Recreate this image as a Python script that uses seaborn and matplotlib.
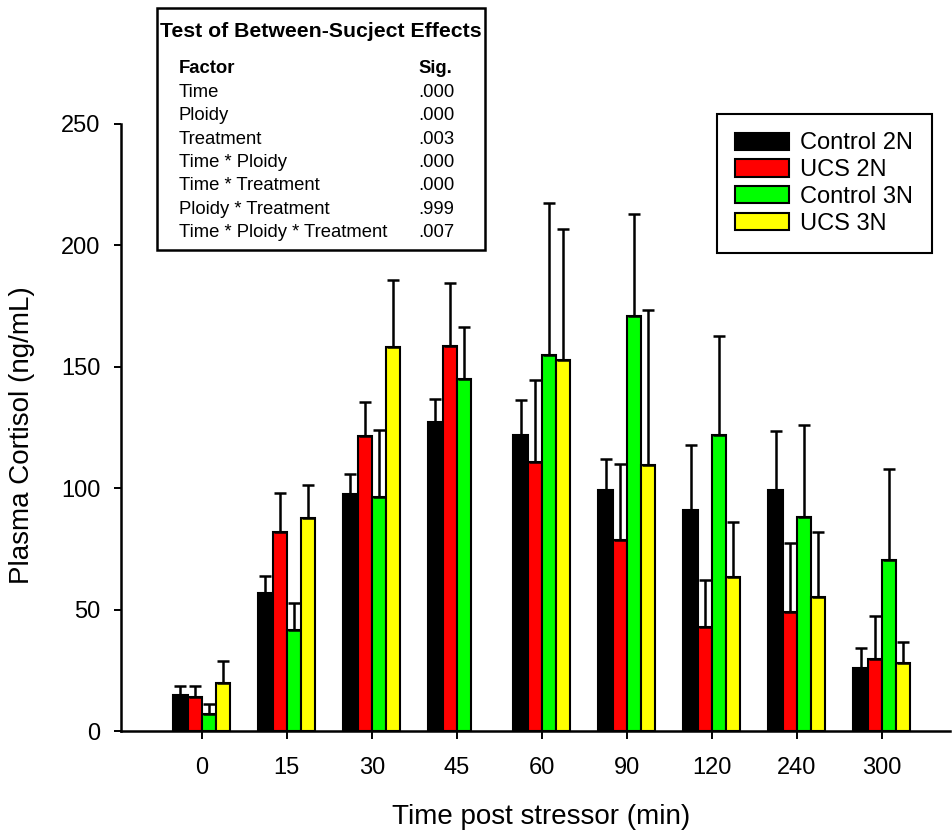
import numpy as np
import pandas as pd
import matplotlib
matplotlib.use("Agg")
import matplotlib.pyplot as plt
from matplotlib.patches import Rectangle
import seaborn as sns

# ---- data -------------------------------------------------------------
times = ["0", "15", "30", "45", "60", "90", "120", "240", "300"]
groups = ["Control 2N", "UCS 2N", "Control 3N", "UCS 3N"]
colors = ["#000000", "#FF0000", "#00FF00", "#FFFF00"]

control_2n_mean = [14.8, 57.0, 97.5, 127.1, 121.9, 99.1, 91.0, 99.1, 26.1]
control_2n_sem = [3.6, 7.0, 8.2, 9.8, 14.6, 12.9, 26.8, 24.6, 8.1]
ucs_2n_mean = [13.9, 81.8, 121.5, 158.7, 110.8, 78.8, 43.0, 49.1, 29.7]
ucs_2n_sem = [4.6, 16.2, 14.0, 25.9, 33.8, 31.2, 19.1, 28.5, 17.7]
control_3n_mean = [6.9, 41.7, 96.5, 145.0, 154.9, 170.9, 121.8, 88.0, 70.4]
control_3n_sem = [4.2, 10.9, 27.6, 21.4, 62.7, 42.0, 40.9, 38.2, 37.6]
ucs_3n_mean = [19.8, 87.7, 158.2, np.nan, 152.9, 109.4, 63.6, 55.1, 27.9]
ucs_3n_sem = [9.0, 13.6, 27.5, np.nan, 53.7, 63.9, 22.4, 26.7, 8.9]

factors = ["Time", "Ploidy", "Treatment", "Time * Ploidy", "Time * Treatment",
           "Ploidy * Treatment", "Time * Ploidy * Treatment"]
sig_values = [".000", ".000", ".003", ".000", ".000", ".999", ".007"]

means = [control_2n_mean, ucs_2n_mean, control_3n_mean, ucs_3n_mean]
sems = [control_2n_sem, ucs_2n_sem, control_3n_sem, ucs_3n_sem]

rows = []
for g, m_list, s_list in zip(groups, means, sems):
    for t, m, s in zip(times, m_list, s_list):
        rows.append({"time": t, "group": g, "cortisol": m, "sem": s})
df = pd.DataFrame(rows).dropna()

# ---- style ------------------------------------------------------------
sns.set_style("ticks")
plt.rcParams["font.family"] = ["Liberation Sans", "DejaVu Sans"]
plt.rcParams["text.color"] = "black"
plt.rcParams["axes.labelcolor"] = "black"
plt.rcParams["xtick.color"] = "black"
plt.rcParams["ytick.color"] = "black"

W, H = 953, 830
fig = plt.figure(figsize=(W / 100, H / 100), dpi=100)
ax = fig.add_axes([121 / W, 1 - 731 / H, 829 / W, 607 / H])

sns.barplot(data=df, x="time", y="cortisol", hue="group", order=times,
            hue_order=groups, palette=colors, width=0.67, errorbar=None,
            edgecolor="black", linewidth=1.5, saturation=1, legend=False, ax=ax)

# one-sided (upper) SEM bars on every bar
sem_lookup = {(r.group, times.index(r.time)): r.sem for r in df.itertuples()}
for g, cont in zip(groups, ax.containers):
    xs, ys, es = [], [], []
    for bar in cont:
        xc = bar.get_x() + bar.get_width() / 2
        h = bar.get_height()
        idx = int(round(xc))
        if (g, idx) not in sem_lookup or np.isnan(h):
            continue
        xs.append(xc)
        ys.append(h)
        es.append(sem_lookup[(g, idx)])
    xs, ys, es = np.array(xs), np.array(ys), np.array(es)
    ax.errorbar(xs, ys, yerr=[np.zeros_like(es), es], fmt="none",
                ecolor="black", elinewidth=1.8, capsize=4.4, capthick=1.8,
                zorder=3)

ax.set_xlim(-0.95, 8.80)
ax.set_ylim(0, 250)
ax.set_yticks([0, 50, 100, 150, 200, 250])
sns.despine(ax=ax)
for side in ("left", "bottom"):
    ax.spines[side].set_linewidth(1.8)
    ax.spines[side].set_color("black")
ax.tick_params(axis="y", direction="out", length=5, width=1.4, pad=10,
               labelsize=17)
ax.tick_params(axis="x", direction="out", length=6, width=1.4, pad=13,
               labelsize=17)

ax.set_xlabel("Time post stressor (min)", fontsize=20, va="top")
ax.set_ylabel("Plasma Cortisol (ng/mL)", fontsize=20)
ax.xaxis.set_label_coords(0.5066, -0.12)
ax.yaxis.set_label_coords(-0.104, 0.4877)

# legend
handles = [Rectangle((0, 0), 1, 1, facecolor=c, edgecolor="black", linewidth=1.5)
           for c in colors]
leg = ax.legend(handles, groups, loc="upper left",
                bbox_to_anchor=(717 / W, 1 - 114 / H),
                bbox_transform=fig.transFigure, borderaxespad=0,
                fontsize=17, frameon=True, fancybox=False, framealpha=1,
                handlelength=2.25, handleheight=0.75, handletextpad=0.5,
                labelspacing=0.2, borderpad=0.78)
leg.get_frame().set_edgecolor("black")
leg.get_frame().set_linewidth(1.5)

# statistics table
fig.patches.append(Rectangle((157 / W, 1 - 250 / H), (485 - 157) / W,
                             (250 - 8) / H, transform=fig.transFigure,
                             facecolor="white", edgecolor="black",
                             linewidth=1.8, zorder=5))
fig.text(321 / W, 1 - 37.3 / H, "Test of Between-Sucject Effects",
         fontsize=15.3, fontweight="bold", ha="center", va="baseline", zorder=6)
fig.text(179 / W, 1 - 73.3 / H, "Factor", fontsize=13.3, fontweight="bold",
         ha="left", va="baseline", zorder=6)
fig.text(418 / W, 1 - 73.3 / H, "Sig.", fontsize=13.3, fontweight="bold",
         ha="left", va="baseline", zorder=6)
for i, (f, s) in enumerate(zip(factors, sig_values)):
    yb = 96.7 + i * 23.4
    fig.text(179 / W, 1 - yb / H, f, fontsize=13.3, ha="left", va="baseline",
             zorder=6)
    fig.text(418 / W, 1 - yb / H, s, fontsize=13.3, ha="left", va="baseline",
             zorder=6)

fig.savefig("out.png", dpi=100)
